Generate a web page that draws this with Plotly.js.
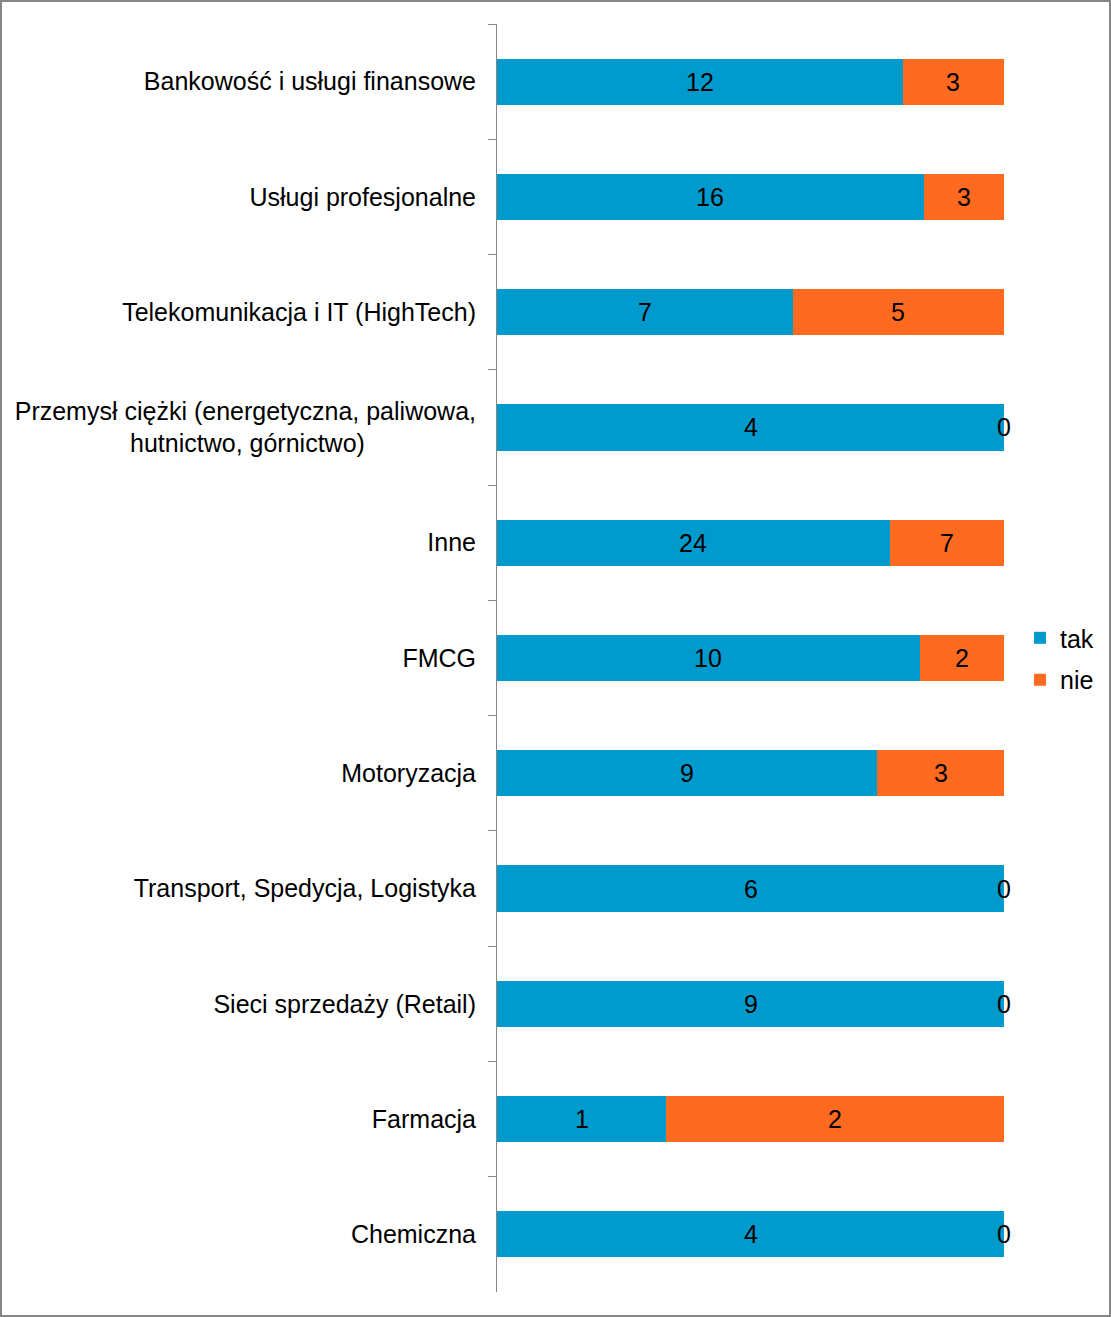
<!DOCTYPE html>
<html>
<head>
<meta charset="utf-8">
<script src="https://cdn.plot.ly/plotly-3.0.1.min.js"></script>
<style>
  html, body { margin: 0; padding: 0; background: #fff; }
  #wrap { position: relative; width: 1111px; height: 1317px; }
  #chart { width: 1111px; height: 1317px; }
  #frame { position: absolute; left: 0; top: 0; width: 1111px; height: 1317px; box-sizing: border-box; border: 2px solid #868686; pointer-events: none; }
</style>
</head>
<body>
<div id="wrap"><div id="chart"></div><div id="frame"></div></div>
<script>
const categories = [
  "Bankowość i usługi finansowe",
  "Usługi profesjonalne",
  "Telekomunikacja i IT (HighTech)",
  "Przemysł ciężki (energetyczna, paliwowa,<br>hutnictwo, górnictwo)" + "\u00A0".repeat(16),
  "Inne",
  "FMCG",
  "Motoryzacja",
  "Transport, Spedycja, Logistyka",
  "Sieci sprzedaży (Retail)",
  "Farmacja",
  "Chemiczna"
];
const tak = [12, 16, 7, 4, 24, 10, 9, 6, 9, 1, 4];
const nie = [3, 3, 5, 0, 7, 2, 3, 0, 0, 2, 0];
const seriesNames = ["tak", "nie"];

const FONT = "Liberation Sans, Arial, sans-serif";
const FS = 25;
const BLUE = "#009ACD";
const ORANGE = "#FF6A21";

// label positions: centre of each normalised segment (percent of row total)
const totals = tak.map((v, i) => v + nie[i]);
const takMid = tak.map((v, i) => (v / 2) / totals[i] * 100);
const nieMid = nie.map((v, i) => (tak[i] + v / 2) / totals[i] * 100);

const data = [
  { type: "bar", orientation: "h", name: seriesNames[0], y: categories, x: tak,
    marker: { color: BLUE }, hoverinfo: "skip", legend: "legend" },
  { type: "bar", orientation: "h", name: seriesNames[1], y: categories, x: nie,
    marker: { color: ORANGE }, hoverinfo: "skip", legend: "legend2" }
];

const labelAnn = (xs, vals) => vals.map((v, i) => ({
  x: xs[i], y: categories[i], xref: "x", yref: "y", text: String(v),
  showarrow: false, xanchor: "center", yanchor: "middle", yshift: 0,
  font: { family: FONT, size: FS, color: "#000" }
}));

const layout = {
  width: 1111, height: 1317,
  margin: { l: 497, r: 107, t: 24, b: 25, autoexpand: false },
  paper_bgcolor: "#fff", plot_bgcolor: "#fff",
  barmode: "stack", barnorm: "percent", bargap: 0.6,
  font: { family: FONT, size: FS, color: "#000" },
  xaxis: { range: [0, 100], visible: false, fixedrange: true },
  yaxis: {
    type: "category", range: [categories.length - 0.5, -0.5], autorange: false,
    showline: true, linecolor: "#868686", linewidth: 1,
    ticks: "outside", tickson: "boundaries", ticklen: 8, tickcolor: "#868686", tickwidth: 1,
    showgrid: false, zeroline: false, ticklabelstandoff: 15,
    tickfont: { family: FONT, size: FS, color: "#000" }
  },
  annotations: labelAnn(takMid, tak).concat(labelAnn(nieMid, nie)),
  showlegend: true,
  legend: { x: 1.0316, y: 0.4976, xanchor: "left", yanchor: "bottom", bgcolor: "rgba(0,0,0,0)",
            font: { family: FONT, size: FS, color: "#000" }, itemwidth: 30, tracegroupgap: 0 },
  legend2: { x: 1.0316, y: 0.5008, xanchor: "left", yanchor: "top", bgcolor: "rgba(0,0,0,0)",
            font: { family: FONT, size: FS, color: "#000" }, itemwidth: 30, tracegroupgap: 0 }
};

Plotly.newPlot("chart", data, layout, { displayModeBar: false, staticPlot: true });
</script>
</body>
</html>
